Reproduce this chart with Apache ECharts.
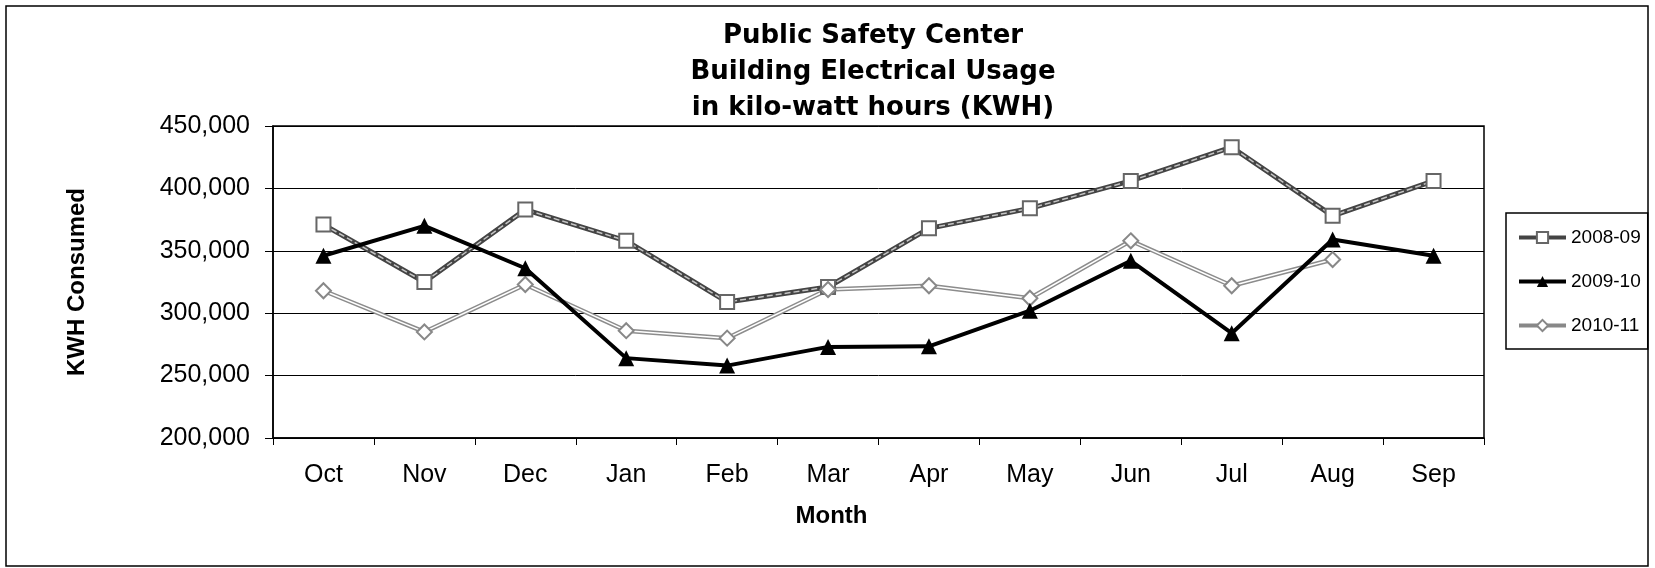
<!DOCTYPE html>
<html>
<head>
<meta charset="utf-8">
<script src="https://cdn.jsdelivr.net/npm/echarts@6/dist/echarts.min.js"></script>
<style>
	html, body { margin: 0; padding: 0; background: #fff; }
	#chart { width: 1655px; height: 568px; }
</style>
</head>
<body>
<div id="chart"></div>
<script>
(function() {
	'use strict';

	var months = ['Oct', 'Nov', 'Dec', 'Jan', 'Feb', 'Mar', 'Apr', 'May', 'Jun', 'Jul', 'Aug', 'Sep'];
	var yearNames = ['2008-09', '2009-10', '2010-11'];
	var kwh0809 = [371000, 325000, 383000, 358000, 309000, 321000, 368000, 384000, 406000, 433000, 378000, 406000];
	var kwh0910 = [346000, 370000, 336000, 264000, 258000, 273000, 273500, 302000, 342000, 284000, 359000, 346000];
	var kwh1011 = [318000, 285000, 323000, 286000, 280000, 319000, 322000, 312000, 358000, 322000, 343000, null];
	var yTicks = [200000, 250000, 300000, 350000, 400000, 450000];

	var font = '"Liberation Sans", Arial, sans-serif';
	var titleFont = '"DejaVu Sans", "Liberation Sans", sans-serif';
	var myChart = echarts.init(document.getElementById('chart'));

	var withCommas = function(v) {
		return String(v).replace(/\B(?=(\d{3})+(?!\d))/g, ',');
	};

	myChart.setOption({
		animation: false,
		backgroundColor: '#fff',
		title: {
			text: 'Public Safety Center\nBuilding Electrical Usage\nin kilo-watt hours (KWH)',
			left: 873,
			top: 18,
			padding: 0,
			textAlign: 'center',
			textStyle: {
				fontFamily: titleFont,
				fontSize: 26,
				fontWeight: 'bold',
				lineHeight: 36,
				color: '#000'
			}
		},
		graphic: [{
			type: 'rect',
			shape: { x: 6, y: 6, width: 1642, height: 560 },
			style: { fill: null, stroke: '#000', lineWidth: 1.5 },
			silent: true
		}],
		legend: {
			orient: 'vertical',
			left: 1506,
			top: 213,
			padding: [15, 7, 14, 11],
			itemGap: 25,
			itemWidth: 47,
			itemHeight: 14,
			borderColor: '#000',
			borderWidth: 1.5,
			textStyle: { fontFamily: font, fontSize: 19, color: '#000' },
			data: [
				{ name: yearNames[0], lineStyle: { color: '#444', width: 4, type: 'solid' } },
				{ name: yearNames[1], lineStyle: { color: '#000', width: 4 } },
				{ name: yearNames[2], lineStyle: { color: '#888', width: 4 } }
			]
		},
		grid: {
			left: 273,
			right: 171,
			top: 126,
			bottom: 130,
			show: true,
			borderColor: '#000',
			borderWidth: 1.5
		},
		xAxis: {
			type: 'category',
			data: months,
			boundaryGap: true,
			name: 'Month',
			nameLocation: 'middle',
			nameGap: 66,
			nameTextStyle: {
				fontFamily: font, fontSize: 24, fontWeight: 'bold', color: '#000',
				padding: [0, 94, 0, 0]
			},
			axisLine: { lineStyle: { color: '#000', width: 1.5 } },
			axisTick: { show: true, length: 7, lineStyle: { color: '#000' } },
			axisLabel: { fontFamily: font, fontSize: 25, color: '#000', margin: 25 }
		},
		yAxis: {
			type: 'value',
			min: yTicks[0],
			max: yTicks[yTicks.length - 1],
			interval: 50000,
			name: 'KWH Consumed',
			nameLocation: 'middle',
			nameGap: 184,
			nameTextStyle: { fontFamily: font, fontSize: 24, fontWeight: 'bold', color: '#000' },
			axisLine: { show: true, lineStyle: { color: '#000', width: 1.5 } },
			axisTick: { show: true, length: 8, lineStyle: { color: '#000' } },
			axisLabel: { fontFamily: font, fontSize: 25, color: '#000', margin: 23, formatter: withCommas },
			splitLine: { lineStyle: { color: '#000', width: 1 } }
		},
		series: [
			{
				name: '2008-09 edge',
				type: 'line',
				data: kwh0809,
				symbol: 'none',
				silent: true,
				lineStyle: { color: '#444', width: 5 }
			},
			{
				name: '2010-11 edge',
				type: 'line',
				data: kwh1011,
				symbol: 'none',
				silent: true,
				lineStyle: { color: '#8c8c8c', width: 4.5 }
			},
			{
				name: yearNames[0],
				type: 'line',
				data: kwh0809,
				symbol: 'rect',
				symbolSize: 14,
				lineStyle: { color: '#c4c4c4', width: 1.5, type: [6, 3] },
				itemStyle: { color: '#fff', borderColor: '#666', borderWidth: 2 }
			},
			{
				name: yearNames[2],
				type: 'line',
				data: kwh1011,
				symbol: 'diamond',
				symbolSize: 15,
				lineStyle: { color: '#fff', width: 1.5 },
				itemStyle: { color: '#fff', borderColor: '#888', borderWidth: 2 }
			},
			{
				name: yearNames[1],
				type: 'line',
				data: kwh0910,
				symbol: 'triangle',
				symbolSize: 16,
				lineStyle: { color: '#000', width: 4 },
				itemStyle: { color: '#000' }
			}
		]
	});
})();
</script>
</body>
</html>
